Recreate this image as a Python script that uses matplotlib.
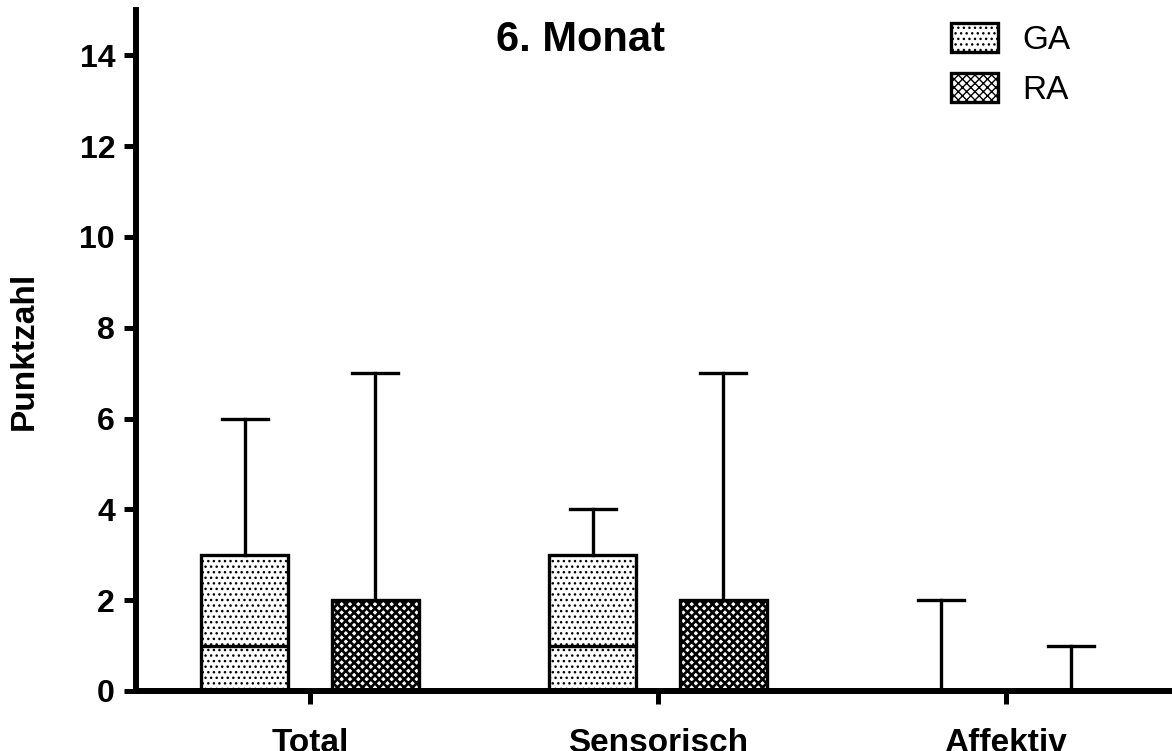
import numpy as np
import matplotlib
matplotlib.use("Agg")
import matplotlib.pyplot as plt
from matplotlib.patches import Patch

plt.rcParams['font.family'] = ['Liberation Sans', 'DejaVu Sans']

# Kategorien und Gruppen
kategorien = ['Total', 'Sensorisch', 'Affektiv']
gruppen = ['GA', 'RA']

# Box-Statistik je Gruppe: Minimum, Q1, Median, Q3, Maximum
ga_min = [0, 0, 0]
ga_q1 = [0, 0, 0]
ga_med = [1, 1, 0]
ga_q3 = [3, 3, 0]
ga_max = [6, 4, 2]

ra_min = [0, 0, 0]
ra_q1 = [0, 0, 0]
ra_med = [0, 0, 0]
ra_q3 = [2, 2, 0]
ra_max = [7, 7, 1]

y_ticks = [0, 2, 4, 6, 8, 10, 12, 14]


def stats(mins, q1s, meds, q3s, maxs):
    # dicts fuer ax.bxp aufbauen
    out = []
    for lo, q1, med, q3, hi in zip(mins, q1s, meds, q3s, maxs):
        out.append(dict(whislo=lo, q1=q1, med=med, q3=q3, whishi=hi, fliers=[]))
    return out


fig = plt.figure(figsize=(11.72, 7.51), dpi=100)
ax = fig.add_axes([0.116, 0.0799, 0.8908, 0.9068])

x = np.arange(len(kategorien))
versatz = 0.187
breite = 0.25
lw = 2.4

linien = dict(color='black', linewidth=lw)

def zeichne(st, pos, hatch, hatch_lw):
    with plt.rc_context({'hatch.linewidth': hatch_lw, 'hatch.color': 'black'}):
        ax.bxp(st, positions=pos, widths=breite, patch_artist=True,
               showfliers=False, capwidths=0.132,
               boxprops=dict(facecolor='white', edgecolor='black', linewidth=lw, hatch=hatch),
               medianprops=linien, whiskerprops=linien, capprops=linien)

zeichne(stats(ga_min, ga_q1, ga_med, ga_q3, ga_max), x - versatz, '...', 1.0)
zeichne(stats(ra_min, ra_q1, ra_med, ra_q3, ra_max), x + versatz, 'xxxx', 1.9)

ax.set_xlim(-0.5, 2.5)
ax.set_ylim(0, 15)
ax.set_xticks(x)
ax.set_xticklabels(kategorien)
ax.set_yticks(y_ticks)

for s in ['top', 'right']:
    ax.spines[s].set_visible(False)
for s in ['left', 'bottom']:
    ax.spines[s].set_linewidth(4.3)
    ax.spines[s].set_zorder(5)

ax.tick_params(axis='both', length=9, width=3.6, direction='out')
ax.tick_params(axis='y', labelsize=23, pad=6)
ax.tick_params(axis='x', labelsize=24, pad=18)
for lab in ax.get_xticklabels() + ax.get_yticklabels():
    lab.set_fontweight('bold')

ax.set_ylabel('Punktzahl', fontsize=24, fontweight='bold')
ax.yaxis.set_label_coords(-0.092, 0.5)

ax.text(0.426, 0.956, '6. Monat', transform=ax.transAxes, ha='center', va='center',
        fontsize=30, fontweight='bold')

with plt.rc_context({'hatch.linewidth': 1.0}):
    h_ga = Patch(facecolor='white', edgecolor='black', linewidth=lw, hatch='...')
with plt.rc_context({'hatch.linewidth': 1.9}):
    h_ra = Patch(facecolor='white', edgecolor='black', linewidth=lw, hatch='xxxx')
ax.legend([h_ga, h_ra], gruppen, loc='upper left', bbox_to_anchor=(0.781, 0.981),
          frameon=False, fontsize=24, handlelength=1.4, handleheight=0.95,
          handletextpad=0.72, labelspacing=0.52, borderaxespad=0, borderpad=0)

fig.savefig('out.png', dpi=100)
